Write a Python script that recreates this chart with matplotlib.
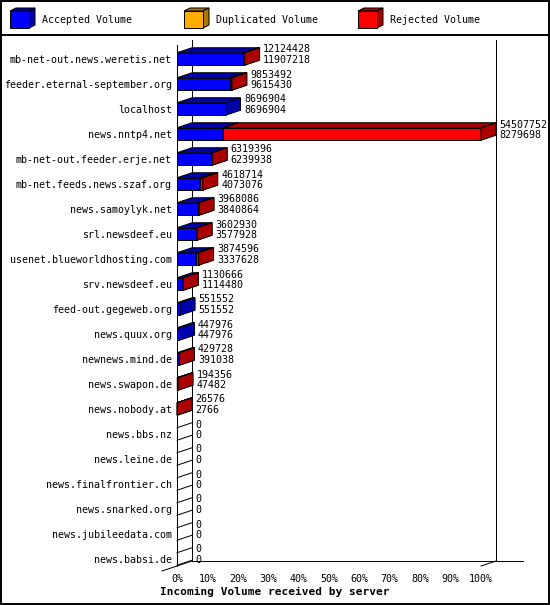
import matplotlib
matplotlib.use('Agg')
import matplotlib.pyplot as plt
from matplotlib.patches import Polygon, Rectangle
from matplotlib.lines import Line2D
from matplotlib.transforms import offset_copy

servers = ["mb-net-out.news.weretis.net", "feeder.eternal-september.org", "localhost",
           "news.nntp4.net", "mb-net-out.feeder.erje.net", "mb-net.feeds.news.szaf.org",
           "news.samoylyk.net", "srl.newsdeef.eu", "usenet.blueworldhosting.com",
           "srv.newsdeef.eu", "feed-out.gegeweb.org", "news.quux.org", "newnews.mind.de",
           "news.swapon.de", "news.nobody.at", "news.bbs.nz", "news.leine.de",
           "news.finalfrontier.ch", "news.snarked.org", "news.jubileedata.com", "news.babsi.de"]
total = [12124428, 9853492, 8696904, 54507752, 6319396, 4618714, 3968086, 3602930,
         3874596, 1130666, 551552, 447976, 429728, 194356, 26576, 0, 0, 0, 0, 0, 0]
accepted = [11907218, 9615430, 8696904, 8279698, 6239938, 4073076, 3840864, 3577928,
            3337628, 1114480, 551552, 447976, 391038, 47482, 2766, 0, 0, 0, 0, 0, 0]
duplicated = [0] * 21
ticks = [0, 10, 20, 30, 40, 50, 60, 70, 80, 90, 100]
tick_labels = [f"{t}%" for t in ticks]
legend_names = ["Accepted Volume", "Duplicated Volume", "Rejected Volume"]

FRONT = {"acc": "#0000FF", "dup": "#FFAA00", "rej": "#FF0000"}
DARK = {"acc": "#0000AA", "dup": "#AA7700", "rej": "#AA0000"}
MONO = "DejaVu Sans Mono"
FS = 7.2
LW = 0.72

W, H = 550, 605
fig = plt.figure(figsize=(W / 100, H / 100), dpi=100)
fig.patch.set_facecolor("white")

# overlay axes in pixel coordinates for frame and legend
lax = fig.add_axes([0, 0, 1, 1], zorder=0)
lax.set_xlim(0, W)
lax.set_ylim(H, 0)
lax.axis("off")
lax.add_patch(Rectangle((0.5, 0.5), W - 1.5, H - 1.5, fill=False, ec="black", lw=1.4))
lax.add_line(Line2D([0, W], [35, 35], color="black", lw=1.4))
leg_x = [10, 184, 358]
for lx, key, name in zip(leg_x, ["acc", "dup", "rej"], legend_names):
    x0, x1, y0, y1, ddx, ddy = lx, lx + 19, 11, 28, 6, -3
    lax.add_patch(Polygon([(x0, y0), (x1, y0), (x1 + ddx, y0 + ddy), (x0 + ddx, y0 + ddy)],
                          closed=True, fc=DARK[key], ec="black", lw=LW))
    lax.add_patch(Polygon([(x1, y0), (x1, y1), (x1 + ddx, y1 + ddy), (x1 + ddx, y0 + ddy)],
                          closed=True, fc=DARK[key], ec="black", lw=LW))
    lax.add_patch(Rectangle((x0, y0), x1 - x0, y1 - y0, fc=FRONT[key], ec="black", lw=LW))
    lax.text(lx + 32, 20, name, family=MONO, size=FS, va="center", ha="left")

# main axes = front plane
left_px, right_px, top_px, bot_px = 177, 481, 45, 566
ax = fig.add_axes([left_px / W, (H - bot_px) / H, (right_px - left_px) / W, (bot_px - top_px) / H],
                  zorder=1)
n = len(servers)
ax.set_xlim(0, 100)
ax.set_ylim((bot_px - 59) / 25, (top_px - 59) / 25)
ax.patch.set_visible(False)
for s in ax.spines.values():
    s.set_visible(False)

ax.set_yticks(range(n), labels=servers, family=MONO, size=FS)
ax.set_xticks(ticks, labels=tick_labels, family=MONO, size=FS)
ax.tick_params(axis="y", length=0, pad=3.6)
ax.tick_params(axis="x", length=0, pad=5.5)

# depth in data units
p0 = ax.transData.transform((0, 0))
p1 = ax.transData.transform((1, 1))
sx, sy = p1[0] - p0[0], p1[1] - p0[1]
DX = 15 / sx
DY = 5 / sy
ylo, yhi = ax.get_ylim()

def back(x, y):
    return (x + DX, y + DY)

# frame (back plane)
frame_kw = dict(color="black", lw=LW, clip_on=False, zorder=1)
ax.add_line(Line2D([0, 0], [yhi, ylo], **frame_kw))
ax.add_line(Line2D([DX, DX], [yhi + DY, ylo + DY], **frame_kw))
ax.add_line(Line2D([100 + DX, 100 + DX], [yhi + DY, ylo + DY], **frame_kw))
ax.add_line(Line2D([DX, 100 + DX + 27 / sx], [ylo + DY, ylo + DY], **frame_kw))
ax.add_line(Line2D([-DX, DX], [ylo - DY, ylo + DY], **frame_kw))
ax.add_line(Line2D([100, 100 + DX], [ylo, ylo + DY], **frame_kw))

vmax = max(total)
h = 0.25
txt1 = offset_copy(ax.transData, fig=fig, x=15 + 3.5, y=9.5, units="dots")
txt2 = offset_copy(ax.transData, fig=fig, x=15 + 3.5, y=-1.0, units="dots")

for i in range(n):
    c = i
    acc = accepted[i] / vmax * 100
    dup = duplicated[i] / vmax * 100
    tot = total[i] / vmax * 100
    rej = tot - acc - dup
    segs = [("acc", acc), ("dup", dup), ("rej", rej)]
    x = 0.0
    top, bot = c - h, c + h
    if tot <= 0:
        for yy in (top, bot):
            ax.add_line(Line2D([0, DX], [yy, yy + DY], color="black", lw=LW, clip_on=False, zorder=2))
    for key, v in segs:
        if v <= 0:
            continue
        x0, x1 = x, x + v
        ax.add_patch(Rectangle((x0, top), v, 2 * h, fc=FRONT[key], ec="black", lw=LW,
                               clip_on=False, zorder=3))
        ax.add_patch(Polygon([(x0, top), (x1, top), back(x1, top), back(x0, top)], closed=True,
                             fc=DARK[key], ec="black", lw=LW, clip_on=False, zorder=3))
        ax.add_patch(Polygon([(x1, top), (x1, bot), back(x1, bot), back(x1, top)], closed=True,
                             fc=DARK[key], ec="black", lw=LW, clip_on=False, zorder=3))
        x = x1
    ax.text(tot, c, f"{total[i]}", transform=txt1, family=MONO, size=FS,
            ha="left", va="center", clip_on=False)
    ax.text(tot, c, f"{accepted[i]}", transform=txt2, family=MONO, size=FS,
            ha="left", va="center", clip_on=False)

fig.text(0.5, 1 - 591.5 / H, "Incoming Volume received by server", family=MONO,
         weight="bold", size=8.0, ha="center", va="center")

fig.savefig("out.png", dpi=100, facecolor="white")
